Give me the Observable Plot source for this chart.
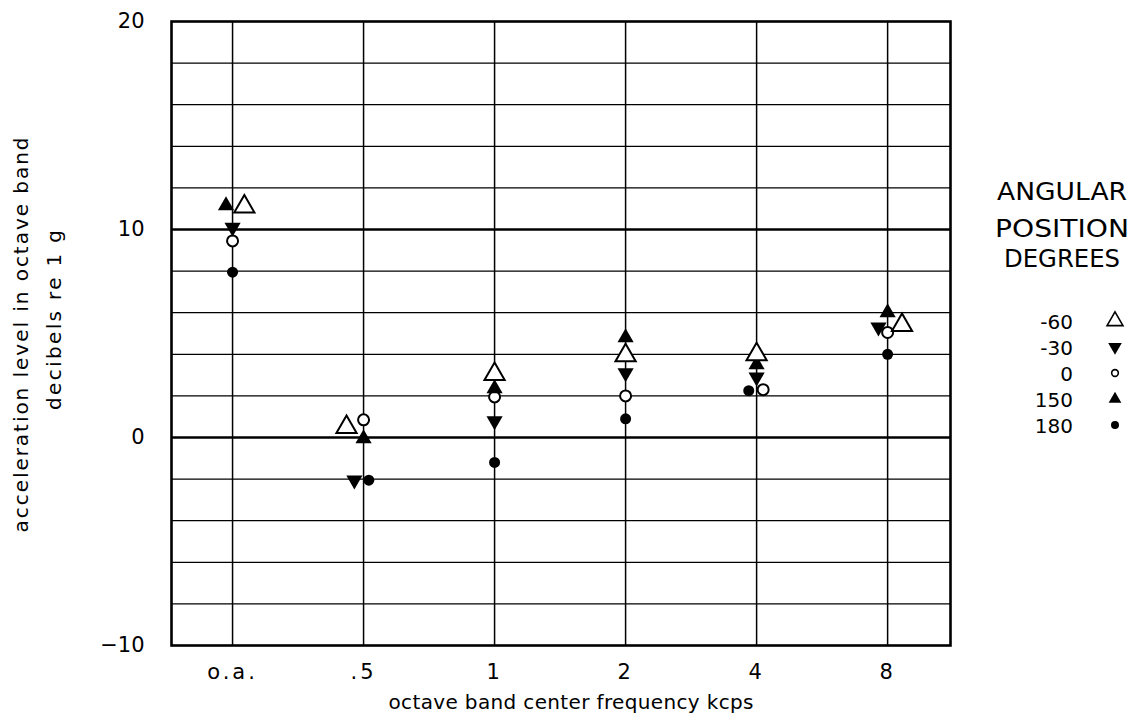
<!DOCTYPE html>
<html>
<head>
<meta charset="utf-8">
<script src="https://cdn.jsdelivr.net/npm/d3@7"></script>
<script src="https://cdn.jsdelivr.net/npm/@observablehq/plot@0.6"></script>
<style>
  html, body { margin: 0; padding: 0; background: #fff; }
  #chart { position: relative; width: 1132px; height: 721px; }
</style>
</head>
<body>
<div id="chart"></div>
<script>
// ---- data ----
const categories = ["o.a.", ".5", "1", "2", "4", "8"];
const angleLabels = ["-60", "-30", "0", "150", "180"];
// acceleration level (dB re 1 g) per category, per angular position
const levelMinus60 = [11.1, 0.5, 3.05, 3.95, 4.0, 5.4];
const levelMinus30 = [10.1, -2.05, 0.8, 3.1, 2.9, 5.3];
const level0      = [9.45, 0.85, 1.95, 2.0, 2.3, 5.05];
const level150    = [11.15, -0.05, 2.35, 4.8, 3.5, 6.0];
const level180    = [7.95, -2.05, -1.2, 0.9, 2.25, 4.0];
// small horizontal displacement of each symbol from its band line (in band units)
const jitterMinus60 = [0.09, -0.13, 0, 0, 0, 0.11];
const jitterMinus30 = [0, -0.07, 0, 0, 0, -0.07];
const jitter0       = [0, 0, 0, 0, 0.05, 0];
const jitter150     = [-0.05, 0, 0, 0, 0, 0];
const jitter180     = [0, 0.04, 0, 0, -0.06, 0];
// axis ticks / grid
const yTickValues = [-10, 0, 10, 20];
const gridLevels = [-8, -6, -4, -2, 2, 4, 6, 8, 12, 14, 16, 18];
const majorLevels = [0, 10];

const FONT = "'DejaVu Sans', sans-serif";
const idx = categories.map((_, i) => i);
const toRows = (vals, jit) => vals.map((v, i) => ({x: i + jit[i], y: v}));

const rowsM60 = toRows(levelMinus60, jitterMinus60);
const rowsM30 = toRows(levelMinus30, jitterMinus30);
const rows0   = toRows(level0, jitter0);
const rows150 = toRows(level150, jitter150);
const rows180 = toRows(level180, jitter180);

const svg = Plot.plot({
  width: 1132,
  height: 721,
  marginLeft: 171,
  marginRight: 182,
  marginTop: 21,
  marginBottom: 76,
  style: {fontFamily: FONT, color: "black", background: "white"},
  x: {type: "linear", domain: [-0.466, 5.48]},
  y: {domain: [-10, 20]},
  marks: [
    Plot.ruleY(gridLevels, {stroke: "black", strokeWidth: 1.3}),
    Plot.ruleY(majorLevels, {stroke: "black", strokeWidth: 2.3}),
    Plot.ruleX(idx, {stroke: "black", strokeWidth: 1.5}),
    Plot.frame({stroke: "black", strokeWidth: 2.6}),
    Plot.axisY({ticks: yTickValues, tickSize: 0, tickPadding: 27, fontSize: 21, label: null}),
    Plot.axisX({ticks: idx, tickFormat: i => categories[i], tickSize: 0, tickPadding: 19, fontSize: 21, label: null}),
    // 180: filled circle
    Plot.dot(rows180, {x: "x", y: "y", symbol: "circle", r: 5.5, fill: "black"}),
    // 0: open circle
    Plot.dot(rows0, {x: "x", y: "y", symbol: "circle", r: 5.5, fill: "white", stroke: "black", strokeWidth: 2}),
    // -30: filled down triangle
    Plot.dot(rowsM30, {x: "x", y: "y", symbol: "triangle", r: 6, rotate: 180, fill: "black"}),
    // 150: filled up triangle
    Plot.dot(rows150, {x: "x", y: "y", symbol: "triangle", r: 6, fill: "black"}),
    // -60: open up triangle
    Plot.dot(rowsM60, {x: "x", y: "y", symbol: "triangle", r: 7.5, fill: "white", stroke: "black", strokeWidth: 2})
  ]
});

const root = d3.select(svg);
root.selectAll('g[aria-label="x-axis tick label"] text').attr("letter-spacing", 3);

// y-axis title (two lines)
const yTitle = root.append("g")
  .attr("transform", "translate(0,335) rotate(-90)")
  .attr("font-family", FONT).attr("font-size", 20).attr("fill", "black")
  .attr("text-anchor", "middle");
yTitle.append("text").attr("x", 0).attr("y", 28)
  .attr("textLength", 395).attr("lengthAdjust", "spacing")
  .text("acceleration level in octave band");
yTitle.append("text").attr("x", 15).attr("y", 61)
  .attr("textLength", 180).attr("lengthAdjust", "spacing")
  .text("decibels re 1 g");

// x-axis title
root.append("text")
  .attr("x", 571).attr("y", 709)
  .attr("font-family", FONT).attr("font-size", 20).attr("fill", "black")
  .attr("text-anchor", "middle")
  .attr("textLength", 365).attr("lengthAdjust", "spacing")
  .text("octave band center frequency kcps");

// legend
const lg = root.append("g").attr("font-family", FONT).attr("fill", "black");
const legendTitle = [
  {t: "ANGULAR", w: 130, y: 200},
  {t: "POSITION", w: 134, y: 237},
  {t: "DEGREES", w: 116, y: 267}
];
legendTitle.forEach(d => {
  lg.append("text").attr("x", 1062).attr("y", d.y)
    .attr("text-anchor", "middle").attr("font-size", 24)
    .attr("textLength", d.w).attr("lengthAdjust", "spacingAndGlyphs")
    .text(d.t);
});
const legendSymbols = [
  {type: d3.symbolTriangle, size: 110, rot: 0, fill: "white", stroke: "black"},
  {type: d3.symbolTriangle, size: 80, rot: 180, fill: "black", stroke: "none"},
  {type: d3.symbolCircle, size: 35, rot: 0, fill: "white", stroke: "black"},
  {type: d3.symbolTriangle, size: 70, rot: 0, fill: "black", stroke: "none"},
  {type: d3.symbolCircle, size: 50, rot: 0, fill: "black", stroke: "none"}
];
angleLabels.forEach((lab, i) => {
  const cy = 321 + i * 26;
  lg.append("text").attr("x", 1073).attr("y", cy + 8)
    .attr("text-anchor", "end").attr("font-size", 20).text(lab);
  const s = legendSymbols[i];
  lg.append("path")
    .attr("d", d3.symbol(s.type, s.size)())
    .attr("transform", `translate(1115,${cy}) rotate(${s.rot})`)
    .attr("fill", s.fill).attr("stroke", s.stroke).attr("stroke-width", 1.6);
});

document.getElementById("chart").appendChild(svg);
</script>
</body>
</html>
